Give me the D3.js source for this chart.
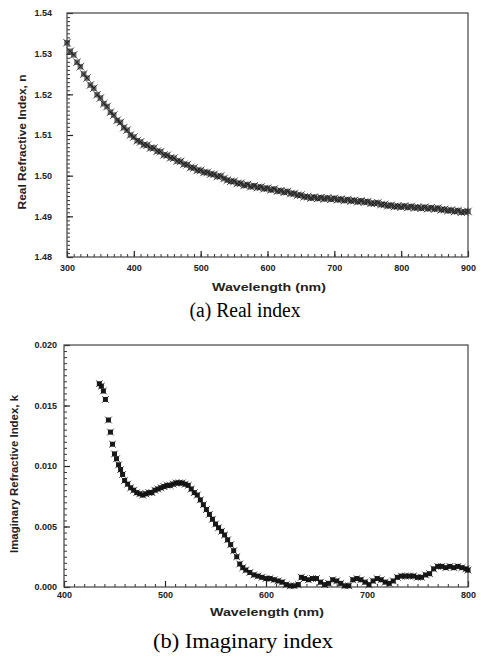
<!DOCTYPE html>
<html><head><meta charset="utf-8">
<script src="https://cdn.jsdelivr.net/npm/d3@7"></script>
<style>
body{margin:0;background:#fff;}
svg text{font-family:"Liberation Sans",Arial,sans-serif;}
.tick text{font-weight:bold;font-size:9px;fill:#222;}
</style></head>
<body><svg id="c" width="481" height="662"></svg>
<script>
// ---- Panel (a): real refractive index ----
const realWavelengths = [300,305,310,315,320,325,330,335,340,345,350,355,360,365,370,375,380,385,390,395,
400,405,410,415,420,425,430,435,440,445,450,455,460,465,470,475,480,485,490,495,
500,505,510,515,520,525,530,535,540,545,550,555,560,565,570,575,580,585,590,595,
600,605,610,615,620,625,630,635,640,645,650,655,660,665,670,675,680,685,690,695,
700,705,710,715,720,725,730,735,740,745,750,755,760,765,770,775,780,785,790,795,
800,805,810,815,820,825,830,835,840,845,850,855,860,865,870,875,880,885,890,895,900];
const realIndex = [1.5327,1.5306,1.5297,1.5279,1.5268,1.5250,1.5240,1.5223,1.5215,1.5199,
1.5191,1.5177,1.5170,1.5156,1.5149,1.5136,1.5131,1.5118,1.5112,1.5100,
1.5095,1.5086,1.5083,1.5076,1.5075,1.5068,1.5068,1.5060,1.5059,1.5051,
1.5050,1.5044,1.5043,1.5036,1.5035,1.5028,1.5027,1.5020,1.5019,1.5013,
1.5013,1.5008,1.5008,1.5004,1.5003,1.4998,1.4999,1.4993,1.4989,1.4986,
1.4986,1.4981,1.4981,1.4976,1.4978,1.4973,1.4975,1.4971,1.4972,1.4968,
1.4969,1.4965,1.4967,1.4962,1.4963,1.4959,1.4961,1.4956,1.4956,1.4952,
1.4952,1.4948,1.4948,1.4945,1.4947,1.4944,1.4946,1.4943,1.4945,1.4942,
1.4944,1.4941,1.4942,1.4939,1.4941,1.4938,1.4939,1.4936,1.4938,1.4935,
1.4936,1.4932,1.4932,1.4933,1.4929,1.4929,1.4926,1.4927,1.4924,1.4925,
1.4923,1.4925,1.4922,1.4924,1.4921,1.4922,1.4920,1.4922,1.4919,1.4921,
1.4918,1.4920,1.4916,1.4917,1.4914,1.4915,1.4912,1.4914,1.4910,1.4911,1.4912];
const realXTicks = [300,400,500,600,700,800,900];
const realYTicks = [1.48,1.49,1.50,1.51,1.52,1.53,1.54];

// ---- Panel (b): imaginary refractive index ----
const imagWavelengths = [435,437,439,441,444,446,448,450,452,454,456,458,460,463,466,469,472,475,478,481,
484,487,490,493,496,499,502,505,508,511,514,517,520,523,526,529,532,535,538,541,
544,547,550,553,556,559,562,565,568,571,574,577,580,584,588,592,596,600,604,608,
612,616,620,624,628,632,635,638,642,646,650,654,658,662,666,670,674,678,682,686,
690,694,698,702,706,710,714,718,722,726,730,734,738,742,746,750,754,758,762,766,
770,774,778,782,786,790,794,798,800];
const imagIndex = [0.0168,0.0166,0.0162,0.0155,0.0138,0.0128,0.0118,0.0110,0.0106,0.0101,
0.0097,0.0093,0.0088,0.0085,0.0082,0.0080,0.0078,0.0077,0.0076,0.0077,
0.0078,0.0078,0.0080,0.0081,0.0082,0.0083,0.0084,0.0084,0.0085,0.0086,
0.0086,0.0086,0.0085,0.0084,0.0081,0.0078,0.0076,0.0072,0.0068,0.0064,
0.0060,0.0056,0.0052,0.0049,0.0046,0.0043,0.0039,0.0035,0.0030,0.0025,
0.0019,0.0016,0.0014,0.0012,0.0010,0.0009,0.0008,0.0007,0.0007,0.0006,
0.0005,0.0004,0.0002,0.0001,0.0001,0.0002,0.0008,0.0007,0.0006,0.0007,
0.0007,0.0004,0.0002,0.0003,0.0006,0.0005,0.0003,0.0001,0.0001,0.0006,
0.0007,0.0006,0.0004,0.0002,0.0005,0.0007,0.0006,0.0004,0.0003,0.0005,
0.0008,0.0009,0.0009,0.0009,0.0009,0.0008,0.0008,0.0010,0.0011,0.0015,
0.0017,0.0017,0.0016,0.0017,0.0016,0.0017,0.0016,0.0015,0.0014];
const imagXTicks = [400,500,600,700,800];
const imagYTicks = [0.000,0.005,0.010,0.015,0.020];

const svg = d3.select("#c");

function panel(cfg){
  const g = svg.append("g");
  const x = d3.scaleLinear().domain(cfg.xDomain).range(cfg.xRange);
  const y = d3.scaleLinear().domain(cfg.yDomain).range(cfg.yRange);
  // minor ticks
  const xMinorVals = d3.range(0, Math.round((cfg.xDomain[1]-cfg.xDomain[0])/cfg.xMinor)+1).map(i=>cfg.xDomain[0]+i*cfg.xMinor);
  const yMinorVals = d3.range(0, Math.round((cfg.yDomain[1]-cfg.yDomain[0])/cfg.yMinor)+1).map(i=>cfg.yDomain[0]+i*cfg.yMinor);
  const xm = g.append("g").attr("transform",`translate(0,${cfg.yRange[0]})`)
    .call(d3.axisBottom(x).tickValues(xMinorVals).tickSize(-3).tickFormat(""));
  xm.select(".domain").remove(); xm.selectAll("line").attr("stroke","#333").attr("stroke-width",1);
  const ym = g.append("g").attr("transform",`translate(${cfg.xRange[0]},0)`)
    .call(d3.axisLeft(y).tickValues(yMinorVals).tickSize(-3).tickFormat(""));
  ym.select(".domain").remove(); ym.selectAll("line").attr("stroke","#333").attr("stroke-width",1);
  // major
  const xa = g.append("g").attr("transform",`translate(0,${cfg.yRange[0]})`)
    .call(d3.axisBottom(x).tickValues(cfg.xTicks).tickSize(-6).tickPadding(cfg.xPad).tickFormat(d3.format("d")));
  xa.select(".domain").remove(); xa.selectAll("line").attr("stroke","#222").attr("stroke-width",1.2);
  const ya = g.append("g").attr("transform",`translate(${cfg.xRange[0]},0)`)
    .call(d3.axisLeft(y).tickValues(cfg.yTicks).tickSize(-6).tickPadding(cfg.yPad).tickFormat(d3.format(cfg.yFmt)));
  ya.select(".domain").remove(); ya.selectAll("line").attr("stroke","#222").attr("stroke-width",1.2);
  // frame
  g.append("rect").attr("x",cfg.xRange[0]).attr("y",cfg.yRange[1])
    .attr("width",cfg.xRange[1]-cfg.xRange[0]).attr("height",cfg.yRange[0]-cfg.yRange[1])
    .attr("fill","none").attr("stroke","#444").attr("stroke-width",1.2);
  // points
  const pts = cfg.xs.map((d,i)=>[d,cfg.ys[i]]);
  g.append("g").selectAll("rect").data(pts).join("rect")
    .attr("x",d=>x(d[0])-cfg.m/2).attr("y",d=>y(d[1])-cfg.m/2)
    .attr("width",cfg.m).attr("height",cfg.m).attr("fill",cfg.fill).attr("opacity",cfg.op);
  g.append("g").selectAll("path").data(pts).join("path")
    .attr("transform",d=>`translate(${x(d[0])},${y(d[1])})`)
    .attr("d",d3.symbol(d3.symbolTimes, cfg.m*cfg.m*1.3))
    .attr("fill","none").attr("stroke","#111").attr("stroke-width",1).attr("opacity",0.7);
  // labels
  g.append("text").attr("x",cfg.xlx).attr("y",cfg.xly).attr("text-anchor","middle")
    .attr("font-weight","bold").attr("font-size",11).attr("textLength",114).attr("lengthAdjust","spacingAndGlyphs")
    .attr("fill","#222").text("Wavelength (nm)");
  g.append("text").attr("transform",`translate(${cfg.ylx},${cfg.yly}) rotate(-90)`).attr("text-anchor","middle")
    .attr("font-weight","bold").attr("font-size",10).attr("textLength",cfg.ylLen).attr("lengthAdjust","spacingAndGlyphs")
    .attr("fill","#222").text(cfg.yLabel);
  g.append("text").attr("x",cfg.cx).attr("y",cfg.cy).attr("text-anchor","middle")
    .style("font-family","'Liberation Serif','Times New Roman',serif").attr("font-size",20)
    .attr("textLength",cfg.cLen).attr("lengthAdjust","spacingAndGlyphs").attr("fill","#000").text(cfg.caption);
}

panel({xDomain:[300,900],xRange:[67,468],yDomain:[1.48,1.54],yRange:[257,13],
  xTicks:realXTicks,yTicks:realYTicks,xMinor:10,yMinor:0.001,xPad:8,yPad:15,yFmt:".2f",
  xs:realWavelengths,ys:realIndex,m:5.5,fill:"#3a3a3a",op:0.75,
  xlx:269,xly:291,ylx:26,yly:142,ylLen:135,yLabel:"Real Refractive Index, n",
  cx:245,cy:317,cLen:111,caption:"(a) Real index"});

panel({xDomain:[400,800],xRange:[64,468],yDomain:[0,0.02],yRange:[587,345],
  xTicks:imagXTicks,yTicks:imagYTicks,xMinor:10,yMinor:0.0005,xPad:5,yPad:7,yFmt:".3f",
  xs:imagWavelengths,ys:imagIndex,m:5,fill:"#111",op:0.95,
  xlx:267,xly:616,ylx:18,yly:474,ylLen:158,yLabel:"Imaginary Refractive Index, k",
  cx:243,cy:648,cLen:180,caption:"(b) Imaginary index"});
</script></body></html>
